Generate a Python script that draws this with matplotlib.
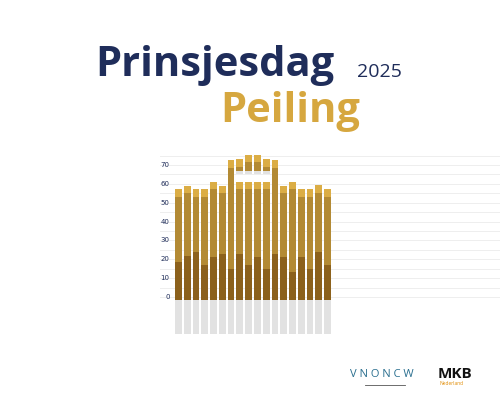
import matplotlib
matplotlib.use("Agg")
import matplotlib.pyplot as plt
import numpy as np

dark = [18.5, 22, 24, 17, 21, 23, 15, 23, 17, 21, 15, 23, 21, 13, 21, 15, 24, 17]
mid = [53, 55, 53, 53, 57, 55, 68.5, 57, 57, 57, 57, 68.5, 55, 57, 53, 53, 55, 53]
top = [57, 59, 57, 57, 61, 59, 72.5, 61, 61, 61, 61, 72.5, 59, 61, 57.5, 57.5, 59.5, 57.5]
# floating upper blocks (bars 8-11)
up_idx = [7, 8, 9, 10]
up_base = [67, 67, 67, 67]
up_mid = [69, 71.5, 71.5, 69]
up_top = [73, 75.5, 75.5, 73]
yticks = [0, 10, 20, 30, 40, 50, 60, 70]

C_DARK, C_MID, C_LIGHT, C_GRAY = "#8c611c", "#b38a34", "#dbad45", "#e2e2e2"

fig = plt.figure(figsize=(5, 4), dpi=100)
fig.patch.set_facecolor("white")
ppu = 1.886
ylo, yhi = -20, 80
ax = fig.add_axes([160/500, (400-(297-ylo*ppu))/400, 340/500, (yhi-ylo)*ppu/400])
pitch = 158/18
ax.set_xlim(-0.5-14/pitch, 17.5+168/pitch)
ax.set_ylim(ylo, yhi)
ax.axis("off")

for v in range(-10, 80, 5):
    if v >= 0:
        ax.axhline(v, color="#eeeeee", lw=0.7, zorder=0)
for v in yticks:
    ax.text(-1.0, v, str(v), ha="right", va="center", fontsize=5, color="#1f2d5a")

x = np.arange(len(dark))
w = 0.78
ax.bar(x, [-18]*len(x), bottom=-1.5, width=w, color=C_GRAY, zorder=1)
ax.bar(x, np.array(top)-np.array(mid), bottom=mid, width=w, color=C_LIGHT, zorder=2)
ax.bar(x, np.array(mid)-np.array(dark), bottom=dark, width=w, color=C_MID, zorder=2)
ax.bar(x, np.array(dark)+1.5, bottom=-1.5, width=w, color=C_DARK, zorder=2)
ax.bar(up_idx, np.array(up_base)-65, bottom=65, width=w, color=C_GRAY, zorder=2)
ax.bar(up_idx, np.array(up_mid)-np.array(up_base), bottom=up_base, width=w, color=C_MID, zorder=2)
ax.bar(up_idx, np.array(up_top)-np.array(up_mid), bottom=up_mid, width=w, color=C_LIGHT, zorder=2)

fig.text(95/500, 1-76/400, "Prinsjesdag", fontsize=30, fontweight="bold", color="#1f2d5a", family="Open Sans")
fig.text(357/500, 1-77/400, "2025", fontsize=14, color="#1f2d5a", family="Open Sans")
fig.text(220/500, 1-122/400, "Peiling", fontsize=30, fontweight="bold", color="#d6a73f", family="Open Sans")

fig.text(350/500, 1-377/400, "V N O N C W", fontsize=8, color="#2a6f8f", family="Open Sans")
fig.add_artist(plt.Line2D([365/500, 405/500], [1-385/400]*2, color="#555555", lw=0.6))
fig.text(438/500, 1-378/400, "MKB", fontsize=11, fontweight="bold", color="#111111", family="Open Sans")
fig.text(439/500, 1-385/400, "Nederland", fontsize=3.5, color="#e08a00", family="Open Sans")

fig.savefig("out.png", dpi=100)
